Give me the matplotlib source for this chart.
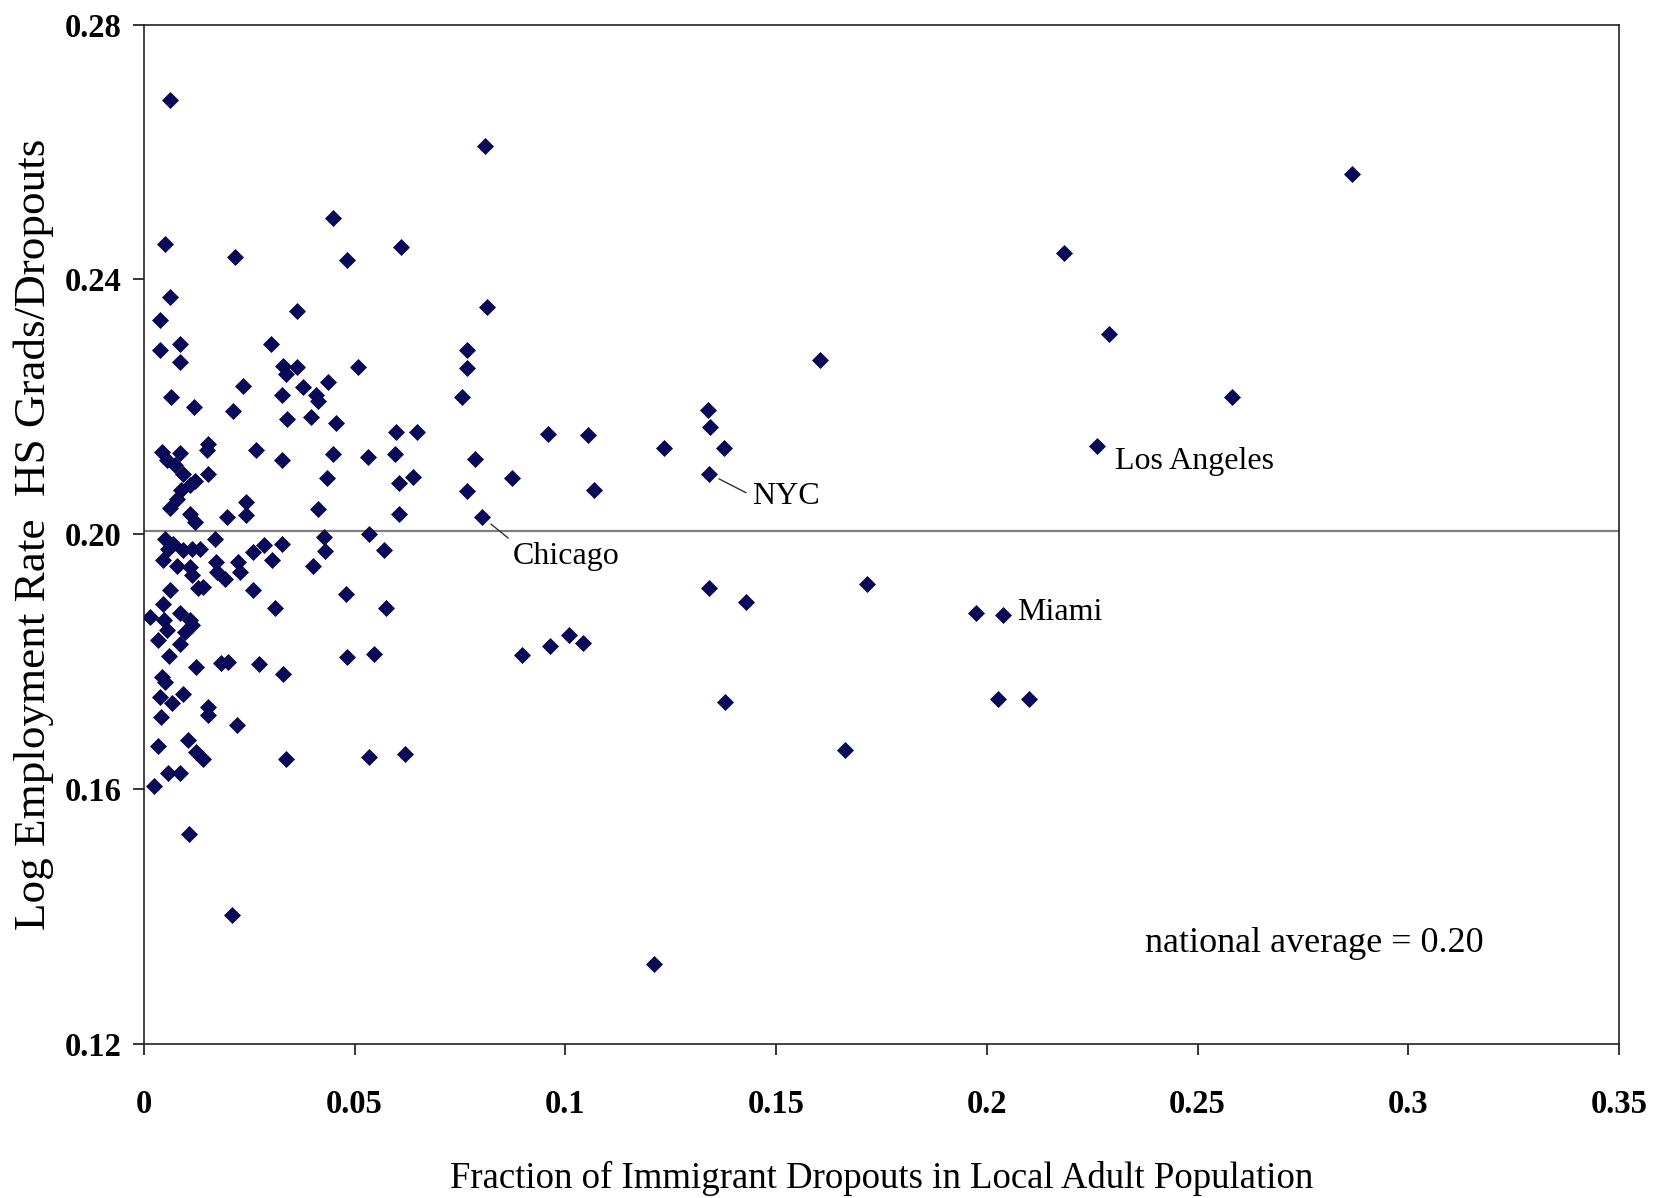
import matplotlib
matplotlib.use("Agg")
import matplotlib.pyplot as plt

plt.rcParams['font.family'] = ['Liberation Serif', 'DejaVu Serif']

# fraction of immigrant dropouts, log employment rate HS grads / dropouts
frac = [
    0.0062, 0.0050, 0.0216, 0.0448, 0.0482, 0.0611, 0.0062, 0.0038, 0.0362, 0.0085,
    0.0038, 0.0085, 0.0302, 0.0331, 0.0337, 0.0364, 0.0509, 0.0234, 0.0064, 0.0119,
    0.0212, 0.0327, 0.0377, 0.0408, 0.0412, 0.0437, 0.0339, 0.0396, 0.0456,
    0.0042, 0.0054, 0.0085, 0.0074, 0.0093, 0.0121, 0.0109, 0.0089, 0.0078, 0.0062,
    0.0109, 0.0121, 0.0153, 0.0149, 0.0153, 0.0196, 0.0242, 0.0242, 0.0267, 0.0327,
    0.0449, 0.0434, 0.0532, 0.0598, 0.0649, 0.0596, 0.0606, 0.0638, 0.0414, 0.0606,
    0.0050, 0.0070, 0.0058, 0.0046, 0.0078, 0.0093, 0.0113, 0.0133, 0.0168, 0.0109,
    0.0115, 0.0172, 0.0174, 0.0192, 0.0224, 0.0228, 0.0259, 0.0285, 0.0303, 0.0327,
    0.0129, 0.0141, 0.0062, 0.0259, 0.0311, 0.0402, 0.0427, 0.0429, 0.0479, 0.0535,
    0.0570, 0.0574, 0.0046, 0.0014, 0.0047, 0.0054, 0.0085, 0.0109, 0.0113, 0.0097,
    0.0034, 0.0085, 0.0060, 0.0123, 0.0184, 0.0200, 0.0274, 0.0329, 0.0481, 0.0546,
    0.0042, 0.0050, 0.0093, 0.0038, 0.0066, 0.0153, 0.0153, 0.0040, 0.0220, 0.0105,
    0.0034, 0.0123, 0.0141, 0.0337, 0.0535, 0.0619, 0.0058, 0.0085, 0.0024, 0.0108,
    0.0208,
    0.0810, 0.0813, 0.0767, 0.0767, 0.0755, 0.0785, 0.0767, 0.0803, 0.0873, 0.0959,
    0.1054, 0.1069, 0.1233, 0.1339, 0.1344, 0.1376, 0.1341, 0.1603, 0.0896, 0.0964,
    0.1009, 0.1042, 0.1341, 0.1429, 0.1716, 0.1379, 0.1663, 0.1210, 0.1975, 0.2038,
    0.2026, 0.2099, 0.2182, 0.2290, 0.2582, 0.2262, 0.2866,
]
log_emp = [
    0.2682, 0.2456, 0.2435, 0.2496, 0.2431, 0.2451, 0.2372, 0.2337, 0.2351, 0.2298,
    0.2290, 0.2270, 0.2298, 0.2264, 0.2251, 0.2262, 0.2262, 0.2233, 0.2216, 0.2200,
    0.2194, 0.2218, 0.2231, 0.2218, 0.2209, 0.2239, 0.2181, 0.2184, 0.2174,
    0.2129, 0.2116, 0.2128, 0.2108, 0.2095, 0.2084, 0.2077, 0.2069, 0.2056, 0.2042,
    0.2032, 0.2019, 0.2142, 0.2132, 0.2095, 0.2027, 0.2051, 0.2031, 0.2133, 0.2116,
    0.2126, 0.2088, 0.2122, 0.2161, 0.2161, 0.2126, 0.2080, 0.2090, 0.2039, 0.2032,
    0.1993, 0.1985, 0.1977, 0.1960, 0.1951, 0.1975, 0.1977, 0.1977, 0.1992, 0.1948,
    0.1936, 0.1957, 0.1941, 0.1930, 0.1957, 0.1941, 0.1972, 0.1983, 0.1960, 0.1985,
    0.1915, 0.1918, 0.1912, 0.1913, 0.1884, 0.1951, 0.1996, 0.1974, 0.1907, 0.2000,
    0.1976, 0.1884, 0.1891, 0.1870, 0.1865, 0.1850, 0.1877, 0.1865, 0.1857, 0.1846,
    0.1834, 0.1828, 0.1809, 0.1792, 0.1798, 0.1800, 0.1796, 0.1781, 0.1808, 0.1812,
    0.1776, 0.1768, 0.1750, 0.1745, 0.1735, 0.1729, 0.1716, 0.1714, 0.1700, 0.1677,
    0.1667, 0.1659, 0.1648, 0.1648, 0.1651, 0.1655, 0.1626, 0.1626, 0.1605, 0.1530,
    0.1402,
    0.2609, 0.2356, 0.2289, 0.2261, 0.2215, 0.2118, 0.2068, 0.2027, 0.2088, 0.2158,
    0.2156, 0.2070, 0.2136, 0.2195, 0.2168, 0.2136, 0.2095, 0.2274, 0.1810, 0.1824,
    0.1842, 0.1829, 0.1915, 0.1894, 0.1922, 0.1737, 0.1662, 0.1325, 0.1877, 0.1874,
    0.1741, 0.1742, 0.2442, 0.2314, 0.2215, 0.2138, 0.2566,
]

national_avg = 0.2005
xticks = [0, 0.05, 0.1, 0.15, 0.2, 0.25, 0.3, 0.35]
xticklabels = ['0', '0.05', '0.1', '0.15', '0.2', '0.25', '0.3', '0.35']
yticks = [0.12, 0.16, 0.20, 0.24, 0.28]
yticklabels = ['0.12', '0.16', '0.20', '0.24', '0.28']

fig = plt.figure(figsize=(16.62, 11.98), dpi=100)
ax = fig.add_axes([0.0866, 0.1285, 0.8876, 0.851])

ax.axhline(national_avg, color='#808080', lw=1.6, zorder=1)
ax.plot(frac, log_emp, 'D', ms=8, color='#0a0a5a', mec='#050540', mew=0.5, zorder=3)

ax.set_xlim(0, 0.35)
ax.set_ylim(0.12, 0.28)
ax.set_xticks(xticks)
ax.set_xticklabels(xticklabels)
ax.set_yticks(yticks)
ax.set_yticklabels(yticklabels)
ax.tick_params(axis='x', direction='out', length=8, width=1.1, labelsize=23.5, pad=24)
ax.tick_params(axis='y', direction='out', length=8, width=1.1, labelsize=23.5, pad=8)
for lab in ax.get_xticklabels() + ax.get_yticklabels():
    lab.set_fontweight('semibold')
for s in ax.spines.values():
    s.set_linewidth(1.2)
    s.set_color('#222222')

ax.set_xlabel('Fraction of Immigrant Dropouts in Local Adult Population', fontsize=26.5, labelpad=30)
ax.set_ylabel('Log Employment Rate  HS Grads/Dropouts', fontsize=32.5, labelpad=8)

ax.annotate('Chicago', xy=(0.0803, 0.2027), xytext=(0.0876, 0.1965), fontsize=23, va='center',
            arrowprops=dict(arrowstyle='-', color='#333333', lw=1, relpos=(0, 1), shrinkA=2, shrinkB=8))
ax.annotate('NYC', xy=(0.1341, 0.2095), xytext=(0.1444, 0.2060), fontsize=23, va='center',
            arrowprops=dict(arrowstyle='-', color='#333333', lw=1, relpos=(0, 0.5), shrinkA=3, shrinkB=8))
ax.text(0.2071, 0.1877, 'Miami', fontsize=23, va='center')
ax.text(0.2305, 0.2115, 'Los Angeles', fontsize=23, va='center')
ax.text(0.2375, 0.1358, 'national average = 0.20', fontsize=26, va='center')

fig.savefig('out.png', dpi=100)
